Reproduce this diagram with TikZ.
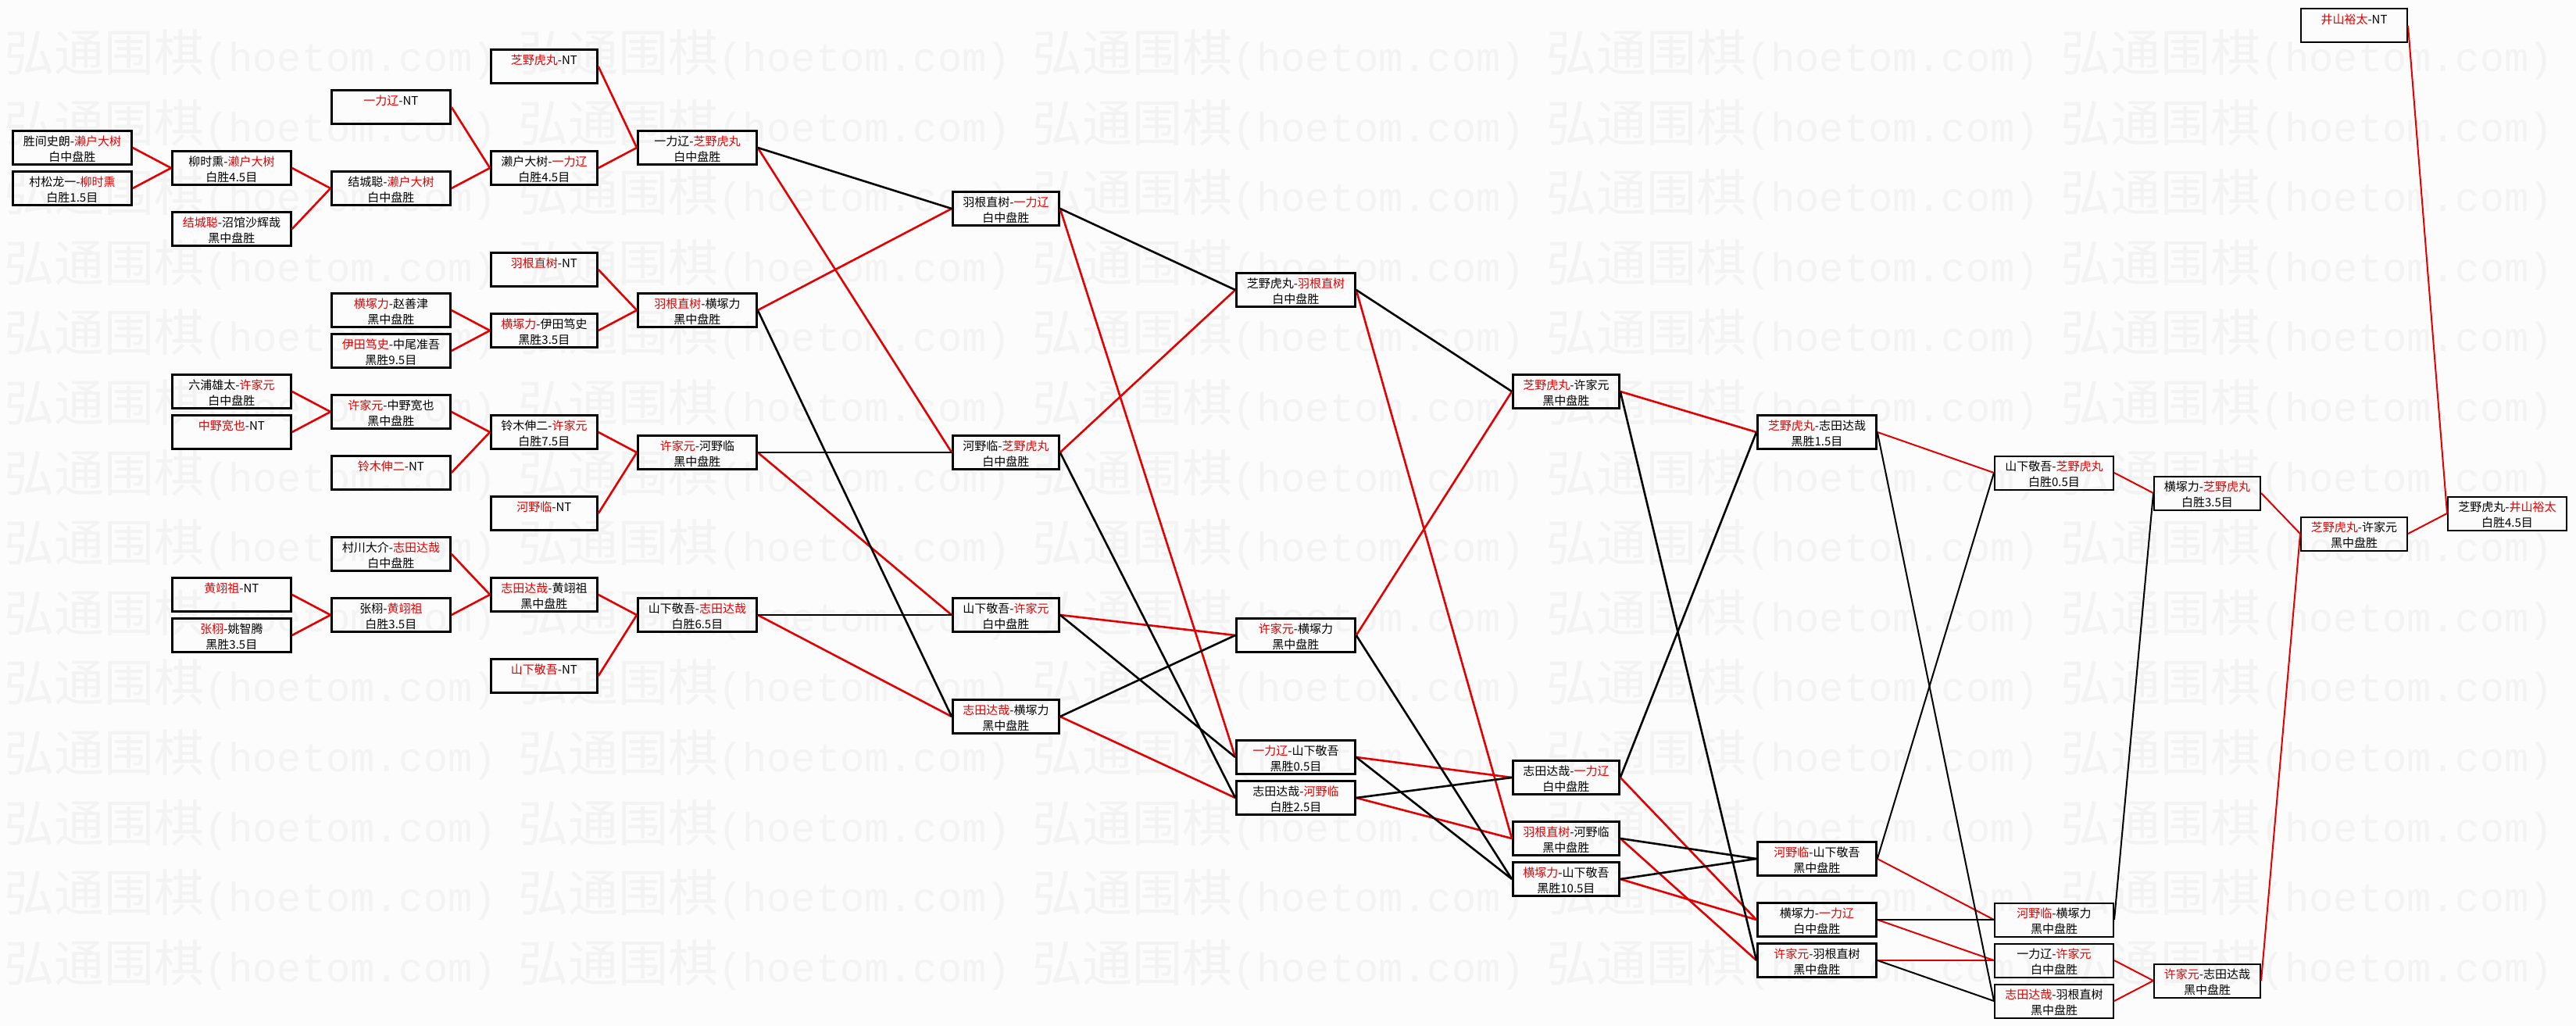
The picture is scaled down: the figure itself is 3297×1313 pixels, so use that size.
\documentclass[tikz,border=0pt]{standalone}
\usepackage{fontspec}
\setmainfont{Noto Sans CJK SC}
\newfontfamily\wmmono{Liberation Mono}
\definecolor{wred}{RGB}{228,0,0}
\definecolor{bgc}{RGB}{252,252,252}
\definecolor{wmc}{RGB}{243,243,243}
\newcommand\redt[1]{\textcolor{wred}{#1}}
\newcommand\bxtext[2]{\vbox to 43pt{\offinterlineskip\hsize=0pt\vskip 19.3pt\hbox to 0pt{\hss\smash{#1}\hss}\vskip 20pt\hbox to 0pt{\hss\smash{#2}\hss}\vss}}
\newcommand\wmtext{{\fontsize{64}{64}\selectfont 弘通围棋}{\wmmono\fontsize{52}{52}\selectfont (hoetom.com)}}
\begin{document}
\begin{tikzpicture}[x=1pt,y=-1pt,
  bx/.style={draw=black,line width=2.8pt,inner sep=0pt,minimum height=43pt,anchor=west,font=\fontsize{15}{15}\selectfont},
  wd/.style={bx,minimum width=152pt},
  nr/.style={bx,minimum width=136pt},
  thinb/.style={line width=2pt},
  redc/.style={draw=wred,line width=2.6pt},
  blkc/.style={draw=black,line width=2.6pt},
  finec/.style={line width=2pt},
  wmk/.style={anchor=west,inner sep=0pt,text=wmc}
]
\useasboundingbox (0,0) rectangle (3297,1313);
\fill[bgc] (0,0) rectangle (3297,1313);
% watermark
\foreach \k in {0,...,13}{\foreach \j in {0,...,4}{
  \node[wmk] (wm\k-\j) at ({5+658*\j},{70+89.6*\k}) {\wmtext};
}}
% Col A
\node[wd] (a1) at (15,189) {\bxtext{胜间史朗-\redt{濑户大树}}{白中盘胜}};
\node[wd] (a2) at (15,241) {\bxtext{村松龙一-\redt{柳时熏}}{白胜1.5目}};
% Col B
\node[wd] (b1) at (219,215) {\bxtext{柳时熏-\redt{濑户大树}}{白胜4.5目}};
\node[wd] (b2) at (219,293) {\bxtext{\redt{结城聪}-沼馆沙辉哉}{黑中盘胜}};
\node[wd] (b3) at (219,501) {\bxtext{六浦雄太-\redt{许家元}}{白中盘胜}};
\node[wd] (b4) at (219,553) {\bxtext{\redt{中野宽也}-NT}{}};
\node[wd] (b5) at (219,761) {\bxtext{\redt{黄翊祖}-NT}{}};
\node[wd] (b6) at (219,813) {\bxtext{\redt{张栩}-姚智腾}{黑胜3.5目}};
% Col C
\node[wd] (c1) at (423,137) {\bxtext{\redt{一力辽}-NT}{}};
\node[wd] (c2) at (423,241) {\bxtext{结城聪-\redt{濑户大树}}{白中盘胜}};
\node[wd] (c3) at (423,397) {\bxtext{\redt{横塚力}-赵善津}{黑中盘胜}};
\node[wd] (c4) at (423,449) {\bxtext{\redt{伊田笃史}-中尾准吾}{黑胜9.5目}};
\node[wd] (c5) at (423,527) {\bxtext{\redt{许家元}-中野宽也}{黑中盘胜}};
\node[wd] (c6) at (423,605) {\bxtext{\redt{铃木伸二}-NT}{}};
\node[wd] (c7) at (423,709) {\bxtext{村川大介-\redt{志田达哉}}{白中盘胜}};
\node[wd] (c8) at (423,787) {\bxtext{张栩-\redt{黄翊祖}}{白胜3.5目}};
% Col D
\node[nr] (d1) at (627,85) {\bxtext{\redt{芝野虎丸}-NT}{}};
\node[nr] (d2) at (627,215) {\bxtext{濑户大树-\redt{一力辽}}{白胜4.5目}};
\node[nr] (d3) at (627,345) {\bxtext{\redt{羽根直树}-NT}{}};
\node[nr] (d4) at (627,423) {\bxtext{\redt{横塚力}-伊田笃史}{黑胜3.5目}};
\node[nr] (d5) at (627,553) {\bxtext{铃木伸二-\redt{许家元}}{白胜7.5目}};
\node[nr] (d6) at (627,657) {\bxtext{\redt{河野临}-NT}{}};
\node[nr] (d7) at (627,761) {\bxtext{\redt{志田达哉}-黄翊祖}{黑中盘胜}};
\node[nr] (d8) at (627,865) {\bxtext{\redt{山下敬吾}-NT}{}};
% Col E
\node[wd] (e1) at (815,189) {\bxtext{一力辽-\redt{芝野虎丸}}{白中盘胜}};
\node[wd] (e2) at (815,397) {\bxtext{\redt{羽根直树}-横塚力}{黑中盘胜}};
\node[wd] (e3) at (815,579) {\bxtext{\redt{许家元}-河野临}{黑中盘胜}};
\node[wd] (e4) at (815,787) {\bxtext{山下敬吾-\redt{志田达哉}}{白胜6.5目}};
% Col F
\node[nr] (f1) at (1218,267) {\bxtext{羽根直树-\redt{一力辽}}{白中盘胜}};
\node[nr] (f2) at (1218,579) {\bxtext{河野临-\redt{芝野虎丸}}{白中盘胜}};
\node[nr] (f3) at (1218,787) {\bxtext{山下敬吾-\redt{许家元}}{白中盘胜}};
\node[nr] (f4) at (1218,917) {\bxtext{\redt{志田达哉}-横塚力}{黑中盘胜}};
% Col G
\node[wd] (g1) at (1581,371) {\bxtext{芝野虎丸-\redt{羽根直树}}{白中盘胜}};
\node[wd] (g2) at (1581,813) {\bxtext{\redt{许家元}-横塚力}{黑中盘胜}};
\node[wd] (g3) at (1581,969) {\bxtext{\redt{一力辽}-山下敬吾}{黑胜0.5目}};
\node[wd] (g4) at (1581,1021) {\bxtext{志田达哉-\redt{河野临}}{白胜2.5目}};
% Col H
\node[nr] (h1) at (1935,501) {\bxtext{\redt{芝野虎丸}-许家元}{黑中盘胜}};
\node[nr] (h2) at (1935,995) {\bxtext{志田达哉-\redt{一力辽}}{白中盘胜}};
\node[nr] (h3) at (1935,1073) {\bxtext{\redt{羽根直树}-河野临}{黑中盘胜}};
\node[nr] (h4) at (1935,1125) {\bxtext{\redt{横塚力}-山下敬吾}{黑胜10.5目}};
% Col I
\node[wd] (i1) at (2248,553) {\bxtext{\redt{芝野虎丸}-志田达哉}{黑胜1.5目}};
\node[wd] (i2) at (2248,1099) {\bxtext{\redt{河野临}-山下敬吾}{黑中盘胜}};
\node[wd] (i3) at (2248,1177) {\bxtext{横塚力-\redt{一力辽}}{白中盘胜}};
\node[wd] (i4) at (2248,1229) {\bxtext{\redt{许家元}-羽根直树}{黑中盘胜}};
% Col J
\node[wd,thinb] (j1) at (2552,605) {\bxtext{山下敬吾-\redt{芝野虎丸}}{白胜0.5目}};
\node[wd,thinb] (j2) at (2552,1177) {\bxtext{\redt{河野临}-横塚力}{黑中盘胜}};
\node[wd,thinb] (j3) at (2552,1229) {\bxtext{一力辽-\redt{许家元}}{白中盘胜}};
\node[wd,thinb] (j4) at (2552,1281) {\bxtext{\redt{志田达哉}-羽根直树}{黑中盘胜}};
% Col K
\node[nr,thinb] (k1) at (2756,631) {\bxtext{横塚力-\redt{芝野虎丸}}{白胜3.5目}};
\node[nr,thinb] (k2) at (2756,1255) {\bxtext{\redt{许家元}-志田达哉}{黑中盘胜}};
% Col L
\node[nr,thinb] (l0) at (2944,33) {\bxtext{\redt{井山裕太}-NT}{}};
\node[nr,thinb] (l1) at (2944,683) {\bxtext{\redt{芝野虎丸}-许家元}{黑中盘胜}};
% Col M
\node[wd,thinb] (m1) at (3132,657) {\bxtext{芝野虎丸-\redt{井山裕太}}{白胜4.5目}};
% connectors
\foreach \s/\t in {a1/b1,a2/b1,b1/c2,b2/c2,c1/d2,c2/d2,d1/e1,d2/e1,c3/d4,c4/d4,d3/e2,d4/e2,b3/c5,b4/c5,c5/d5,c6/d5,d5/e3,d6/e3,b5/c8,b6/c8,c7/d7,c8/d7,d7/e4,d8/e4,
  e1/f2,e2/f1,e3/f3,e4/f4,f1/g3,f2/g1,f3/g2,f4/g4,g1/h3,g2/h1,g3/h2,g4/h3,h1/i1,h2/i3,h3/i4,h4/i3}
  {\draw[redc] (\s.east) -- (\t.west);}
\foreach \s/\t in {e1/f1,e2/f4,e3/f2,e4/f3,f1/g1,f2/g4,f3/g3,f4/g2,g1/h1,g2/h4,g3/h4,g4/h2,h1/i4,h2/i1,h3/i2,h4/i2}
  {\draw[blkc] (\s.east) -- (\t.west);}
\foreach \s/\t in {i1/j1,i2/j2,i3/j3,i4/j3,j1/k1,j3/k2,j4/k2,k1/l1,k2/l1,l0/m1,l1/m1}
  {\draw[redc,finec] (\s.east) -- (\t.west);}
\foreach \s/\t in {i1/j4,i2/j1,i3/j2,i4/j4,j2/k1}
  {\draw[blkc,finec] (\s.east) -- (\t.west);}
\end{tikzpicture}
\end{document}
